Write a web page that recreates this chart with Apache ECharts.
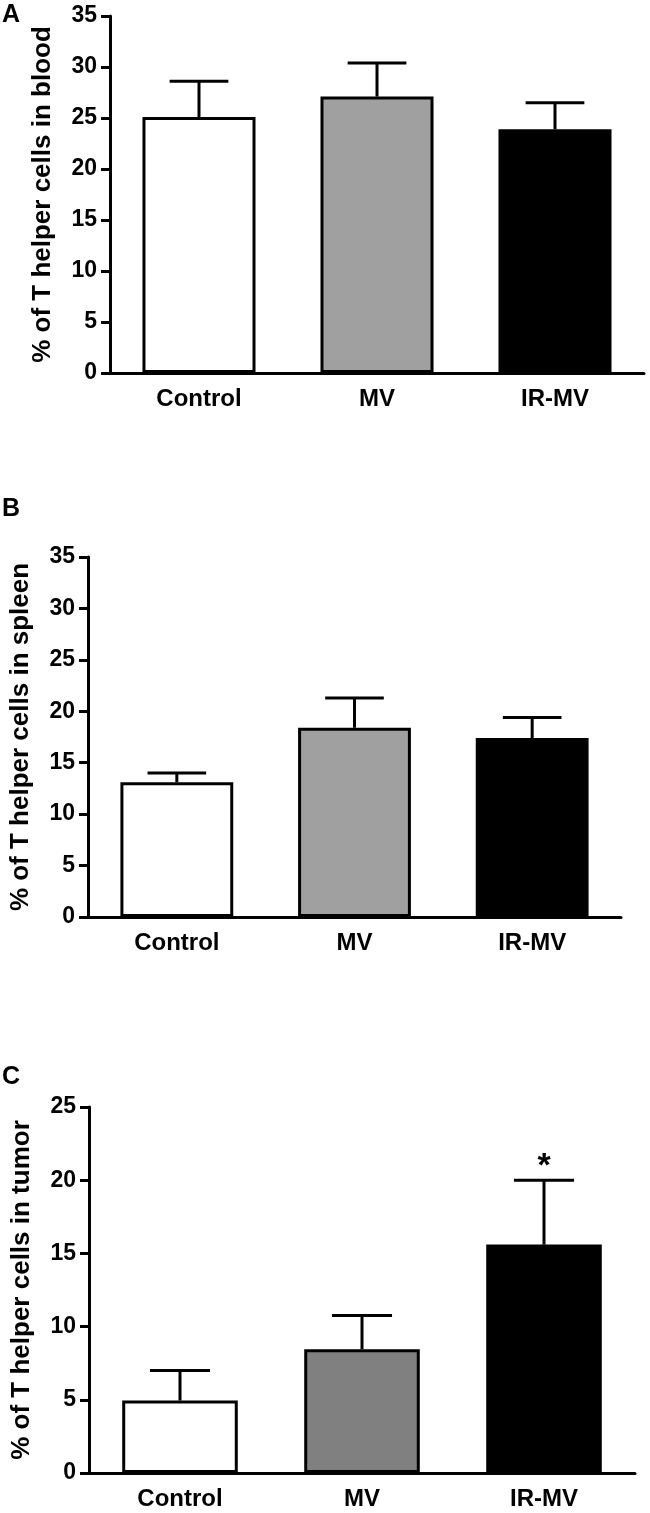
<!DOCTYPE html>
<html>
<head>
<meta charset="utf-8">
<script src="https://cdn.jsdelivr.net/npm/echarts@6/dist/echarts.min.js"></script>
<style>
  html, body { margin: 0; padding: 0; background: #ffffff; }
  #chart { width: 650px; height: 1513px; }
</style>
</head>
<body>
<div id="chart"></div>
<script>
// ---- data ----
const categories = ['Control', 'MV', 'IR-MV'];
const yTicksAB = [0, 5, 10, 15, 20, 25, 30, 35];
const yTicksC = [0, 5, 10, 15, 20, 25];

const bloodMean = [25.1, 27.1, 23.9];
const bloodErr = [3.5, 3.3, 2.6];
const spleenMean = [13.1, 18.4, 17.4];
const spleenErr = [0.9, 2.9, 2.0];
const tumorMean = [4.95, 8.45, 15.6];
const tumorErr = [2.05, 2.3, 4.4];
const tumorSig = ['', '', '*'];

const titles = ['% of T helper cells in blood', '% of T helper cells in spleen', '% of T helper cells in tumor'];
const panelLetters = ['A', 'B', 'C'];
const fillsAB = ['#ffffff', '#a0a0a0', '#000000'];
const fillsC = ['#ffffff', '#808080', '#000000'];

// ---- layout ----
const FONT = "'Liberation Sans', Arial, sans-serif";
const grids = [
  { left: 110, top: 16, width: 534, height: 357 },
  { left: 82, top: 557, width: 539, height: 360 },
  { left: 89, top: 1107, width: 546, height: 366 }
];
const panels = [
  { mean: bloodMean, err: bloodErr, sig: ['', '', ''], fills: fillsAB, ticks: yTicksAB },
  { mean: spleenMean, err: spleenErr, sig: ['', '', ''], fills: fillsAB, ticks: yTicksAB },
  { mean: tumorMean, err: tumorErr, sig: tumorSig, fills: fillsC, ticks: yTicksC }
];

const xAxes = [], yAxes = [], series = [];
panels.forEach((p, i) => {
  xAxes.push({
    type: 'category', gridIndex: i, data: categories,
    axisLine: { lineStyle: { color: '#000', width: 3 } },
    axisTick: { alignWithLabel: true, length: 9, lineStyle: { color: '#000', width: 3 } },
    axisLabel: { color: '#000', fontFamily: FONT, fontWeight: 'bold', fontSize: 24, margin: 14 }
  });
  const tmax = p.ticks[p.ticks.length - 1];
  yAxes.push({
    type: 'value', gridIndex: i, min: p.ticks[0], max: tmax, interval: p.ticks[1] - p.ticks[0],
    name: titles[i], nameLocation: 'middle', nameGap: 54, nameRotate: 90,
    nameTextStyle: { color: '#000', fontFamily: FONT, fontWeight: 'bold', fontSize: 26 },
    axisLine: { show: true, lineStyle: { color: '#000', width: 3 } },
    axisTick: { show: true, length: 9, lineStyle: { color: '#000', width: 3 } },
    axisLabel: { color: '#000', fontFamily: FONT, fontWeight: 'bold', fontSize: 23, margin: 13 },
    splitLine: { show: false }
  });
  series.push({
    type: 'bar', xAxisIndex: i, yAxisIndex: i, barWidth: '63.5%',
    data: p.mean.map((v, k) => ({
      value: v,
      itemStyle: { color: p.fills[k], borderColor: '#000', borderWidth: 3 }
    })),
    silent: true, animation: false
  });
  series.push({
    type: 'custom', xAxisIndex: i, yAxisIndex: i, silent: true, animation: false, z: 5,
    data: p.mean.map((v, k) => [k, v, v + p.err[k]]),
    renderItem: function (params, api) {
      const idx = api.value(0);
      const base = api.coord([idx, api.value(1)]);
      const top = api.coord([idx, api.value(2)]);
      const hw = api.size([1, 0])[0] * 0.165;
      const style = { stroke: '#000', lineWidth: 3 };
      const children = [
        { type: 'line', shape: { x1: base[0], y1: base[1], x2: top[0], y2: top[1] }, style: style },
        { type: 'line', shape: { x1: top[0] - hw, y1: top[1], x2: top[0] + hw, y2: top[1] }, style: style }
      ];
      const s = p.sig[idx];
      if (s) {
        children.push({
          type: 'text',
          style: { text: s, x: top[0], y: top[1] - 14, align: 'center', verticalAlign: 'middle',
                   font: 'bold 34px ' + FONT, fill: '#000' }
        });
      }
      return { type: 'group', children: children };
    }
  });
});

const letterPos = [16, 510, 1078];
const graphics = panelLetters.map((L, i) => ({
  type: 'text', left: 2, top: letterPos[i] - 13,
  style: { text: L, font: 'bold 25px ' + FONT, fill: '#000' }
}));

const chart = echarts.init(document.getElementById('chart'), null, { renderer: 'canvas' });
chart.setOption({
  backgroundColor: '#ffffff',
  animation: false,
  grid: grids,
  xAxis: xAxes,
  yAxis: yAxes,
  series: series,
  graphic: graphics
});
</script>
</body>
</html>
